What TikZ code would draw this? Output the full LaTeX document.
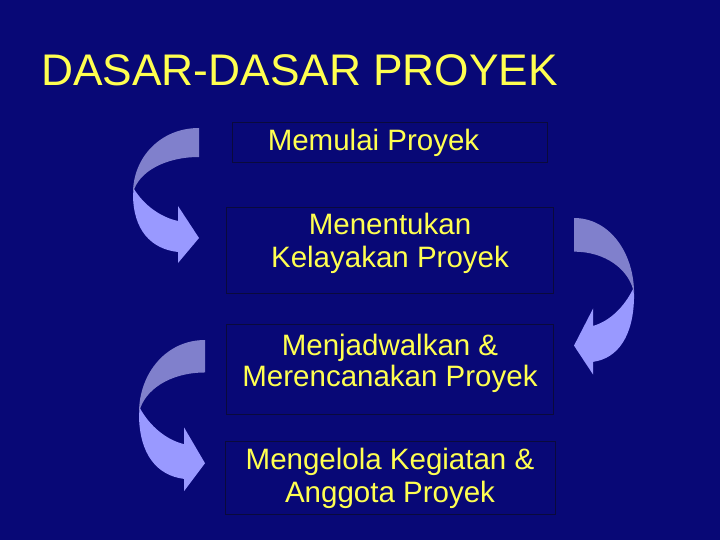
\documentclass[tikz,border=0pt]{standalone}
\usepackage{fontspec}
\setmainfont{Liberation Sans}
\definecolor{bgnavy}{RGB}{8,8,118}
\definecolor{txtyellow}{RGB}{255,255,80}
\definecolor{boxline}{RGB}{10,10,60}
\definecolor{arrdark}{RGB}{128,128,204}
\definecolor{arrlight}{RGB}{153,153,255}
\tikzset{
  boxnode/.style={draw=boxline, line width=0.8pt, fill=none, inner sep=0pt},
  linetxt/.style={text=txtyellow, anchor=base, inner sep=0pt, font=\fontsize{29.5}{32}\selectfont},
  darkpart/.style={fill=arrdark, draw=none},
  lightpart/.style={fill=arrlight, draw=none},
}
\newcommand{\curvedarrow}{%
  \fill[darkpart] (0,0) .. controls (-39,0) and (-66,30) .. (-66,65)
     .. controls (-61,44) and (-34,29) .. (0,29) -- cycle;
  \fill[lightpart] (-65,61) .. controls (-55,77) and (-39,89) .. (-21,93)
     -- (-21,78) -- (0,110) -- (-21,135) -- (-21,124)
     .. controls (-48,121) and (-66,102) .. (-66,66) -- cycle;
}
\begin{document}
\begin{tikzpicture}[x=1pt,y=-1pt]
\fill[bgnavy] (0,0) rectangle (720,540);
\useasboundingbox (0,0) rectangle (720,540);

\node[anchor=base west, inner sep=0pt, text=txtyellow, font=\fontsize{44.3}{50}\selectfont] (title) at (41,86) {DASAR-DASAR PROYEK};

\node[boxnode, minimum width=315pt, minimum height=40pt] (b1) at (389.5,142) {};
\node[boxnode, minimum width=327pt, minimum height=86pt] (b2) at (389.5,250) {};
\node[boxnode, minimum width=327pt, minimum height=90pt] (b3) at (389.5,369) {};
\node[boxnode, minimum width=330pt, minimum height=73pt] (b4) at (390,477.5) {};

\node[linetxt] (t1) at (373.5,151) {Memulai Proyek};
\node[linetxt] (t2a) at (390,235) {Menentukan};
\node[linetxt] (t2b) at (390,267) {Kelayakan Proyek};
\node[linetxt] (t3a) at (390,355) {Menjadwalkan \&};
\node[linetxt] (t3b) at (390,386) {Merencanakan Proyek};
\node[linetxt] (t4a) at (390,469) {Mengelola Kegiatan \&};
\node[linetxt] (t4b) at (390,502) {Anggota Proyek};

\begin{scope}[shift={(199,128)}]
  \curvedarrow
\end{scope}
\begin{scope}[shift={(205,340)}, yscale=1.12]
  \curvedarrow
\end{scope}
\begin{scope}[shift={(574,218)}, xscale=-0.91, yscale=1.16]
  \curvedarrow
\end{scope}
\end{tikzpicture}
\end{document}
